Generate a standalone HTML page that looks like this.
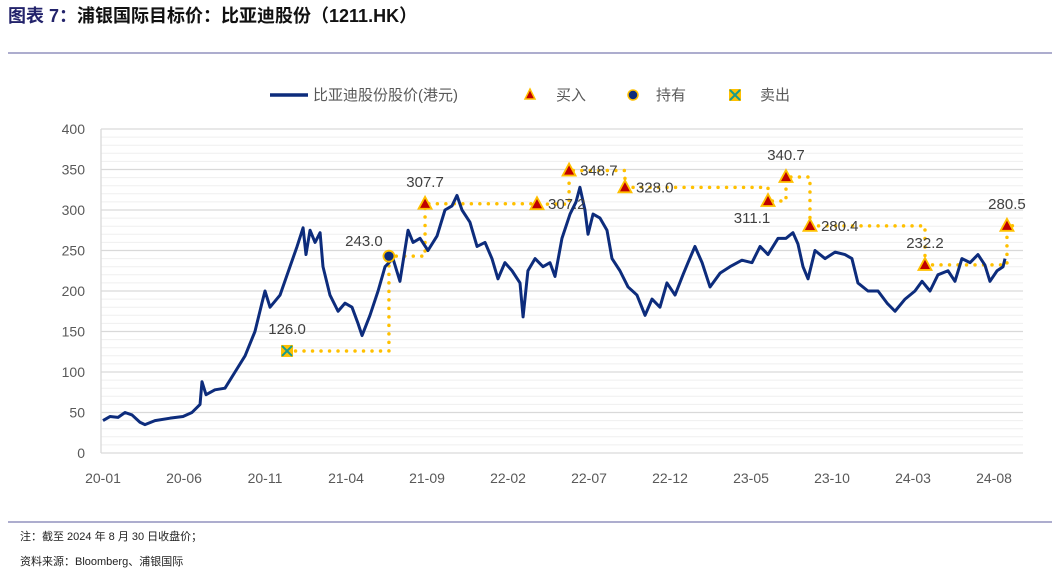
<!DOCTYPE html>
<html><head><meta charset="utf-8"><style>
body{margin:0;width:1052px;height:569px;background:#fff;overflow:hidden;font-family:"Liberation Sans","Noto Sans CJK SC",sans-serif;}
svg{position:absolute;left:0;top:0}
</style></head><body>
<svg width="1052" height="569">
<text x="8" y="22" font-size="18" font-weight="bold" fill="#23236b" font-family="'Liberation Sans','Noto Sans CJK SC',sans-serif">图表 7：<tspan fill="#111">浦银国际目标价：比亚迪股份（1211.HK）</tspan></text>
<line x1="8" y1="53" x2="1052" y2="53" stroke="#7c7cb0" stroke-width="1.2"/>
<line x1="8" y1="522" x2="1052" y2="522" stroke="#7c7cb0" stroke-width="1.2"/>
<text x="20" y="540" font-size="11" fill="#222">注：截至 2024 年 8 月 30 日收盘价；</text>
<text x="20" y="565" font-size="11" fill="#222">资料来源：Bloomberg、浦银国际</text>
<g id="grid"></g>
<g id="axes"></g>
<g id="steps"></g>
<g id="price"></g>
<g id="marks"></g>
<g>
<line x1="270" y1="95" x2="308" y2="95" stroke="#0d2c7c" stroke-width="3.5"/>
<text x="313" y="100" font-size="15" fill="#595959">比亚迪股份股价(港元)</text>
<polygon points="530,89 535,99 525,99" fill="#c00000" stroke="#ffc000" stroke-width="1.5"/>
<text x="556" y="100" font-size="15" fill="#595959">买入</text>
<circle cx="633" cy="95" r="5" fill="#0d2c7c" stroke="#ffc000" stroke-width="1.5"/>
<text x="656" y="100" font-size="15" fill="#595959">持有</text>
<rect x="729" y="89" width="12" height="12" fill="#ffc000"/>
<path d="M730,90 L740,100 M740,90 L730,100" stroke="#1a9a8a" stroke-width="2"/>
<text x="760" y="100" font-size="15" fill="#595959">卖出</text>
</g>
</svg>
<script>
const months=[0,0.43,0.93,1.36,1.79,2.28,2.59,3.21,4.14,4.94,5.49,5.99,6.11,6.36,6.91,7.53,8.15,8.77,9.38,9.81,10.0,10.31,10.93,11.54,11.98,12.35,12.53,12.78,13.09,13.4,13.58,14.01,14.51,14.94,15.37,15.74,15.99,16.48,16.98,17.41,17.9,18.33,18.83,19.14,19.57,20.06,20.62,21.11,21.54,21.85,22.16,22.65,23.09,23.58,24.01,24.38,24.81,25.25,25.74,25.93,26.23,26.67,27.16,27.59,27.9,28.33,28.83,29.2,29.44,29.75,29.94,30.25,30.68,31.11,31.42,31.91,32.41,32.96,33.46,33.89,34.38,34.81,35.31,35.8,36.11,36.54,36.98,37.47,38.09,38.7,39.44,40.06,40.56,41.05,41.67,42.16,42.59,42.9,43.21,43.52,43.95,44.57,45.19,45.8,46.23,46.6,47.22,47.84,48.4,48.89,49.51,50.12,50.56,51.05,51.54,52.16,52.59,53.02,53.52,54.01,54.44,54.75,55.19,55.56,55.68];
const prices=[40,45,44,50,47,38,35,40,43,45,50,60,88,72,78,80,100,120,150,185,200,180,195,230,255,278,245,275,260,272,230,195,175,185,180,160,145,170,200,230,240,212,275,260,265,250,268,300,305,318,300,285,255,260,240,215,235,225,210,168,225,240,230,235,218,265,295,310,328,300,270,295,290,275,240,225,205,195,170,190,180,210,195,220,235,255,235,205,222,230,238,235,255,245,265,265,272,258,230,215,250,240,248,245,240,210,200,200,185,175,190,200,212,200,220,225,212,240,235,245,232,212,225,230,240];
const stepMonths=[11.36,17.65,19.88,26.79,28.77,32.22,41.05,42.16,43.64,50.74,55.8,56.6];
const stepValues=[126.0,243.0,307.7,307.2,348.7,328.0,311.1,340.7,280.4,232.2,280.5,280.5];
const markTypes=["sell","hold","buy","buy","buy","buy","buy","buy","buy","buy","buy"];
const labelText=["126.0","243.0","307.7","307.2","348.7","328.0","311.1","340.7","280.4","232.2","280.5"];
const labelPos=["above","aboveleft","above","right","right","right","belowleft","above","right","above","above"];
const yTicks=[0,50,100,150,200,250,300,350,400];
const xTickLabels=["20-01","20-06","20-11","21-04","21-09","22-02","22-07","22-12","23-05","23-10","24-03","24-08"];
const xTickMonths=[0,5,10,15,20,25,30,35,40,45,50,55];

const NS="http://www.w3.org/2000/svg";
const X0=103,PXM=16.2,Y0=453,PXV=0.81,PL=101,PR=1023;
const xs=m=>X0+m*PXM, ys=v=>Y0-v*PXV;
function mk(t,a,p){const e=document.createElementNS(NS,t);for(const k in a)e.setAttribute(k,a[k]);p.appendChild(e);return e;}
const grid=document.getElementById('grid');
for(let v=0;v<=400;v+=10){
  const l=mk('line',{x1:PL,x2:PR,y1:ys(v),y2:ys(v),stroke:v%50===0?'#d9d9d9':'#efefef','stroke-width':v%50===0?1.3:1},grid);
  
  
}
const axes=document.getElementById('axes');
const yl=mk('line',{x1:PL,x2:PL,y1:ys(0),y2:ys(400),stroke:'#d9d9d9','stroke-width':1.3},axes);


yTicks.forEach(v=>{const t=mk('text',{x:85,y:ys(v)+5,'font-size':14,fill:'#595959','text-anchor':'end'},axes);t.textContent=v;

});
xTickLabels.forEach((s,i)=>{const t=mk('text',{x:xs(xTickMonths[i]),y:483,'font-size':14,fill:'#595959','text-anchor':'middle'},axes);t.textContent=s;

});
const pg=document.getElementById('price');
const n=Math.min(months.length,prices.length);
const pp=[];for(let i=0;i<n;i++)pp.push(xs(months[i])+','+ys(prices[i]));
const pl=mk('polyline',{points:pp.join(' '),fill:'none',stroke:'#0d2c7c','stroke-width':3,'stroke-linejoin':'round'},pg);


let pts=[];
for(let i=0;i<stepMonths.length;i++){
  if(i>0)pts.push(xs(stepMonths[i])+','+ys(stepValues[i-1]));
  pts.push(xs(stepMonths[i])+','+ys(stepValues[i]));
}
const sl=mk('polyline',{points:pts.join(' '),fill:'none',stroke:'#ffc000','stroke-width':3.5,'stroke-dasharray':'0 8.5','stroke-linecap':'round'},document.getElementById('steps'));


const mg=document.getElementById('marks');
markTypes.forEach((tp,i)=>{
  const x=xs(stepMonths[i]),y=ys(stepValues[i]);let e;
  if(tp==='buy'){e=mk('polygon',{points:`${x},${y-7} ${x+6.5},${y+5} ${x-6.5},${y+5}`,fill:'#c00000',stroke:'#ffc000','stroke-width':1.8},mg);
    }
  else if(tp==='hold'){e=mk('circle',{cx:x,cy:y,r:5.5,fill:'#0d2c7c',stroke:'#ffc000','stroke-width':1.8},mg);
    }
  else{e=mk('g',{},mg);mk('rect',{x:x-6,y:y-6,width:12,height:12,fill:'#ffc000'},e);mk('path',{d:`M${x-5},${y-5}L${x+5},${y+5}M${x+5},${y-5}L${x-5},${y+5}`,stroke:'#1a9a8a','stroke-width':2},e);
    }
  
  const p=labelPos[i];let lx=x,ly=y,an='middle';
  if(p==='above'){ly=y-17;}
  else if(p==='aboveleft'){lx=x-25;ly=y-10;}
  else if(p==='right'){lx=x+11;ly=y+5;an='start';}
  else if(p==='belowleft'){lx=x-16;ly=y+22;}
  const t=mk('text',{x:lx,y:ly,'font-size':15,fill:'#404040','text-anchor':an},mg);t.textContent=labelText[i];
  
  
});
</script>
</body></html>
